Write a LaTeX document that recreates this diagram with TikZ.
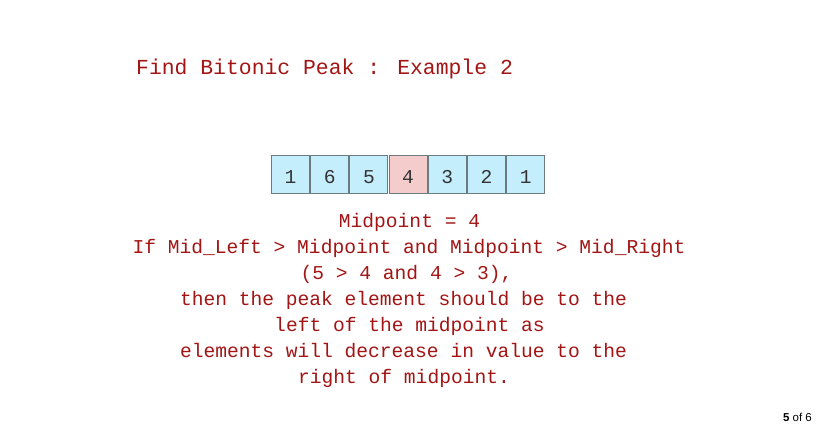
\documentclass[tikz,border=0pt]{standalone}
\usepackage{fontspec}
\setmainfont{Liberation Mono}
\newfontfamily\pagerfont{Liberation Sans}
\definecolor{slidered}{HTML}{A31515}
\definecolor{cellblue}{HTML}{C4EEFC}
\definecolor{cellpink}{HTML}{F4CCCC}
\definecolor{cellline}{HTML}{6B7B80}
\definecolor{celltext}{HTML}{333333}
\begin{document}
\begin{tikzpicture}[x=1pt,y=-1pt,
  titletext/.style={anchor=base west,inner sep=0pt,text=slidered,font=\fontsize{21.4}{26}\selectfont},
  bodytext/.style={anchor=base,inner sep=0pt,text=slidered,font=\fontsize{19.6}{26}\selectfont},
  cell/.style={draw=cellline,line width=1pt,fill=cellblue,minimum width=38pt,minimum height=38pt,
    inner sep=0pt,anchor=north west,text=celltext,font=\fontsize{19.6}{24}\selectfont,text depth=0pt,text height=17pt},
  midcell/.style={cell,fill=cellpink},
  pager/.style={anchor=base east,inner sep=0pt,text=black,font=\pagerfont\fontsize{11.5}{14}\selectfont}]
  \useasboundingbox (0,0) rectangle (819,427);
  \fill[white] (0,0) rectangle (819,427);

  % heading
  \node[titletext] (title) at (136,75) {Find Bitonic Peak : Example 2};

  % array of values, the middle one highlighted
  \node[cell]    (c1) at (271.0,155.5) {1};
  \node[cell]    (c2) at (310.2,155.5) {6};
  \node[cell]    (c3) at (349.4,155.5) {5};
  \node[midcell] (c4) at (388.6,155.5) {4};
  \node[cell]    (c5) at (427.8,155.5) {3};
  \node[cell]    (c6) at (467.0,155.5) {2};
  \node[cell]    (c7) at (506.2,155.5) {1};

  % explanation
  \node[bodytext] (l1) at (409.5,228) {Midpoint = 4};
  \node[bodytext] (l2) at (409.0,254) {If Mid\_Left > Midpoint and Midpoint > Mid\_Right};
  \node[bodytext] (l3) at (406.5,280) {(5 > 4 and 4 > 3),};
  \node[bodytext] (l4) at (403.5,306) {then the peak element should be to the};
  \node[bodytext] (l5) at (409.5,332) {left of the midpoint as};
  \node[bodytext] (l6) at (403.5,358) {elements will decrease in value to the};
  \node[bodytext] (l7) at (404.0,384) {right of midpoint.};

  % page counter
  \node[pager] (page) at (812,421) {\textbf{5} of 6};
\end{tikzpicture}
\end{document}
